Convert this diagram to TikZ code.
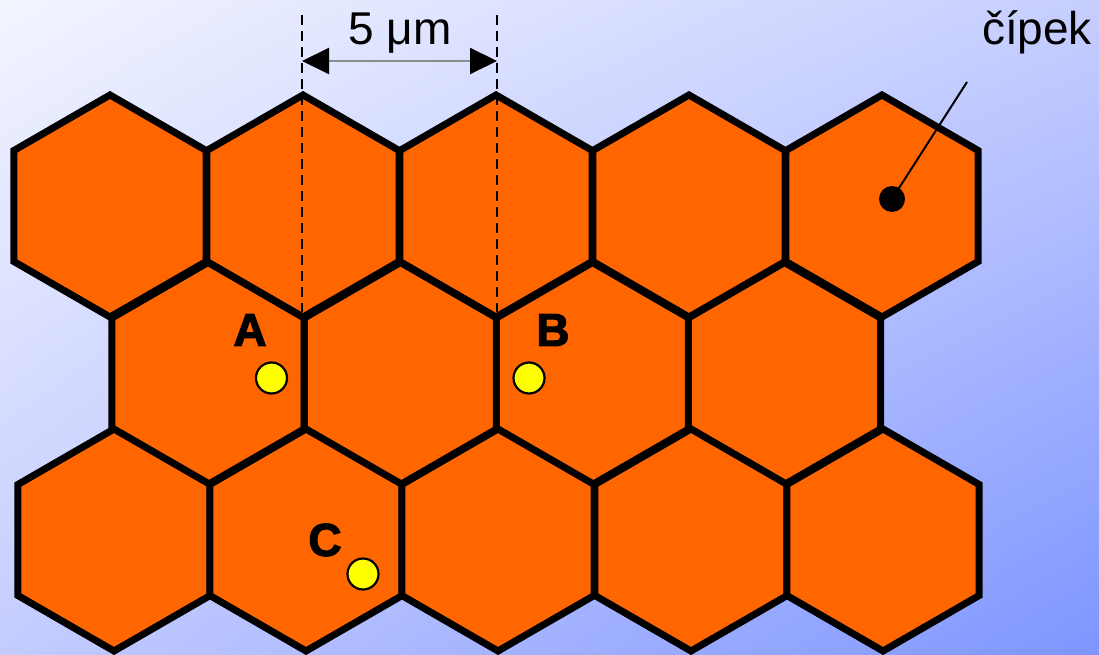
\documentclass[tikz,border=0pt]{standalone}
\usepackage{fontspec}
\setmainfont{Liberation Sans}
\newfontface\heavyfont{Liberation Sans Bold}[FakeBold=2.5]
\usetikzlibrary{arrows.meta,shadings}
\definecolor{bgA}{HTML}{F3F5FF}
\definecolor{bgB}{HTML}{C6CEFF}
\definecolor{bgC}{HTML}{C4CCFF}
\definecolor{bgD}{HTML}{7D95FF}
\definecolor{cellfill}{HTML}{FF6600}
\definecolor{dotyellow}{HTML}{FFFF00}
\definecolor{dimgray}{HTML}{8C8C8C}
\newcommand\hexR{111}
\newcommand\hexcell[2]{\draw[hexcell] (#1,#2) +(90:\hexR) -- +(150:\hexR) -- +(210:\hexR) -- +(270:\hexR) -- +(330:\hexR) -- +(30:\hexR) -- cycle;}
\tikzset{
  hexcell/.style={fill=cellfill, draw=black, line width=7pt, line join=miter},
  dimline/.style={draw=black, line width=2.8pt, dash pattern=on 10pt off 6pt},
  dimarrow/.style={draw=dimgray, line width=2pt, {Triangle[length=27pt,width=26pt,black]}-{Triangle[length=27pt,width=26pt,black]}},
  bigtext/.style={font=\fontsize{46}{52}\selectfont, inner sep=0pt, text=black},
  lbl/.style={font=\fontsize{46}{52}\selectfont\heavyfont, inner sep=0pt, text=black},
  ydot/.style={circle, fill=dotyellow, draw=black, line width=2.2pt, minimum size=31pt, inner sep=0pt},
  bdot/.style={circle, fill=black, minimum size=26pt, inner sep=0pt},
  leader/.style={draw=black, line width=2pt}
}
\begin{document}
\begin{tikzpicture}[x=1pt,y=-1pt]
\useasboundingbox (0,0) rectangle (1099,655);
\shade[upper left=bgA, upper right=bgB, lower left=bgC, lower right=bgD] (0,0) rectangle (1099,655);
% row 1
\hexcell{110}{206}
\hexcell{303}{206}
\hexcell{496}{206}
\hexcell{689}{206}
\hexcell{882}{206}
% row 2
\hexcell{208}{373.5}
\hexcell{400.5}{373.5}
\hexcell{592.5}{373.5}
\hexcell{784.5}{373.5}
% row 3
\hexcell{114}{540}
\hexcell{306}{540}
\hexcell{498}{540}
\hexcell{691}{540}
\hexcell{883}{540}
% dimension
\coordinate (d1t) at (302,15);
\coordinate (d1b) at (302,312);
\coordinate (d2t) at (497,15);
\coordinate (d2b) at (497,312);
\coordinate (a1) at (302,61);
\coordinate (a2) at (497,61);
\draw[dimline] (d1t) -- (d1b);
\draw[dimline] (d2t) -- (d2b);
\draw[dimarrow] (a1) -- (a2);
\node[bigtext, anchor=base] (dimtext) at (400,45) {5 μm};
% cipek
\node[bigtext, anchor=base] (cipek) at (1037,45) {čípek};
\node[bdot] (tip) at (892,199) {};
\coordinate (lead) at (967,82);
\draw[leader] (lead) -- (tip.center);
% labels
\node[lbl] (labA) at (250,330) {A};
\node[lbl] (labB) at (553,330) {B};
\node[lbl] (labC) at (325,540) {C};
\node[ydot] (pA) at (271.5,378) {};
\node[ydot] (pB) at (529,378) {};
\node[ydot] (pC) at (363,574) {};
\end{tikzpicture}
\end{document}
